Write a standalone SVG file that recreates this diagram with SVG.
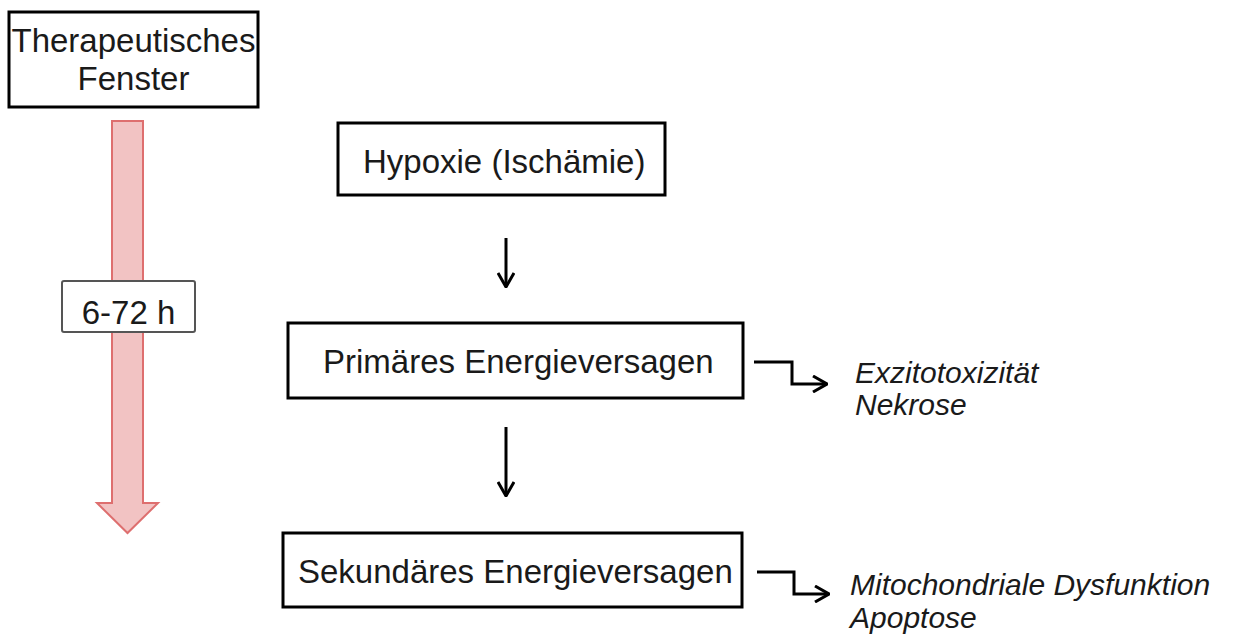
<svg xmlns="http://www.w3.org/2000/svg" width="1239" height="639" viewBox="0 0 1239 639">
<style>
.box{fill:#fff;stroke:#000;stroke-width:3}
.t{font-family:"Liberation Sans",Arial,sans-serif;font-size:33px;fill:#1a1a1a}
.it{font-family:"Liberation Sans",Arial,sans-serif;font-size:30px;font-style:italic;fill:#1a1a1a}
.con{fill:none;stroke:#000;stroke-width:3}
</style>
<defs>
<marker id="ah" viewBox="0 0 16 18" refX="15" refY="9" markerWidth="16" markerHeight="18" markerUnits="userSpaceOnUse" orient="auto">
<path d="M1,1 L15,9 L1,17" fill="none" stroke="#000" stroke-width="3"/>
</marker>
</defs>
<rect width="1239" height="639" fill="#fff"/>
<g id="fenster">
<rect class="box" x="9" y="12" width="249" height="95"/>
<text class="t" x="133.5" y="52" text-anchor="middle">Therapeutisches</text>
<text class="t" x="133.5" y="90" text-anchor="middle">Fenster</text>
</g>
<g id="zeitpfeil">
<path d="M112,121 L143,121 L143,503 L158,503 L127.5,533 L97,503 L112,503 Z" fill="#f2c3c3" stroke="#de6f6f" stroke-width="2"/>
</g>
<g id="zeit">
<rect x="62" y="281" width="133" height="51" rx="2" fill="#fff" stroke="#555" stroke-width="2"/>
<text class="t" x="128.5" y="324" text-anchor="middle">6-72 h</text>
</g>
<g id="hypoxie">
<rect class="box" x="338" y="123" width="327" height="72"/>
<text class="t" x="363" y="173">Hypoxie (Ischämie)</text>
</g>
<g id="primaer">
<rect class="box" x="288" y="323" width="455" height="75"/>
<text class="t" x="323" y="373">Primäres Energieversagen</text>
</g>
<g id="sekundaer">
<rect class="box" x="283" y="533" width="459" height="74"/>
<text class="t" x="298" y="583">Sekundäres Energieversagen</text>
</g>
<g id="folgen1">
<text class="it" x="855" y="383">Exzitotoxizität</text>
<text class="it" x="855" y="415">Nekrose</text>
</g>
<g id="folgen2">
<text class="it" x="850" y="595">Mitochondriale Dysfunktion</text>
<text class="it" x="850" y="628">Apoptose</text>
</g>
<g id="connectors">
<line class="con" x1="506" y1="238" x2="506" y2="287" marker-end="url(#ah)"/>
<line class="con" x1="506" y1="427" x2="506" y2="496" marker-end="url(#ah)"/>
<polyline class="con" points="754,362 792,362 792,384 827,384" marker-end="url(#ah)"/>
<polyline class="con" points="757,572 794,572 794,594 829,594" marker-end="url(#ah)"/>
</g>
</svg>
